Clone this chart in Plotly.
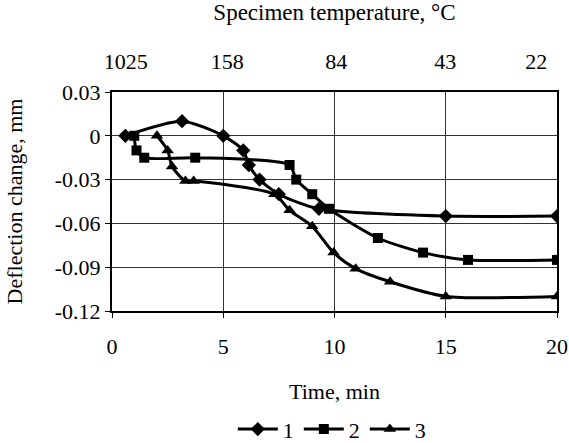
import plotly.graph_objects as go

# Series 1 (diamonds)
t1 = [0.6, 3.15, 5.0, 5.9, 6.15, 6.63, 7.5, 9.3, 15.0, 20.0]
d1 = [0.0, 0.010, 0.0, -0.010, -0.020, -0.030, -0.040, -0.050, -0.055, -0.055]
# Series 2 (squares)
t2 = [1.0, 1.1, 1.45, 3.74, 7.98, 8.28, 9.0, 9.75, 11.95, 13.98, 16.0, 20.0]
d2 = [0.0, -0.010, -0.015, -0.015, -0.020, -0.030, -0.040, -0.050, -0.070, -0.080, -0.085, -0.085]
# Series 3 (triangles)
t3 = [2.02, 2.5, 2.7, 3.3, 3.67, 7.3, 7.98, 9.0, 9.96, 10.95, 12.5, 15.0, 20.0]
d3 = [0.0, -0.010, -0.021, -0.031, -0.031, -0.040, -0.051, -0.062, -0.080, -0.091, -0.100, -0.110, -0.110]

x_ticks = [0, 5, 10, 15, 20]
y_ticks = [0.03, 0, -0.03, -0.06, -0.09, -0.12]
y_labels = ["0.03", "0", "-0.03", "-0.06", "-0.09", "-0.12"]
temp_pos = [0.62, 5.18, 10.08, 14.98, 19.07]
temp_labels = ["1025", "158", "84", "43", "22"]

FONT = "Liberation Serif"
TF = dict(family=FONT, size=22, color="black")
names = ["1", "2", "3"]
symbols = ["diamond", "square", "triangle-up"]
sizes = [11, 10, 11]

fig = go.Figure()
for t, d, n, s, sz in zip([t1, t2, t3], [d1, d2, d3], names, symbols, sizes):
    fig.add_trace(go.Scatter(
        x=t, y=d, name=n, mode="lines+markers",
        line=dict(color="black", width=3, shape="spline", smoothing=0.7),
        marker=dict(symbol=s, size=sz, color="black"),
    ))

# invisible trace for the top axis
fig.add_trace(go.Scatter(x=[0, 20], y=[None, None], xaxis="x2", showlegend=False,
                         hoverinfo="skip", mode="lines"))

fig.update_layout(
    template="none",
    width=569, height=443,
    margin=dict(l=112, r=12, t=92, b=132, pad=0, autoexpand=False),
    paper_bgcolor="white", plot_bgcolor="white",
    font=TF,
    showlegend=True,
    legend=dict(orientation="h", x=0.494, xanchor="center", y=-0.54, yanchor="middle",
                font=TF, itemwidth=40, tracegroupgap=0, bgcolor="rgba(0,0,0,0)"),
    xaxis=dict(
        range=[0, 20], tickvals=x_ticks, ticktext=[str(v) for v in x_ticks],
        tickfont=TF,
        showgrid=True, gridcolor="#333333", gridwidth=1,
        showline=True, linecolor="black", linewidth=2, mirror=True,
        ticks="outside", ticklen=5, tickcolor="black", tickwidth=1, ticklabelstandoff=10,
        zeroline=False,
        title=dict(text="Time, min", standoff=25, font=TF),
    ),
    xaxis2=dict(
        range=[0, 20], overlaying="x", side="top",
        tickvals=temp_pos, ticktext=temp_labels, tickfont=TF,
        showgrid=False, showline=False, ticks="", zeroline=False,
        ticklabelstandoff=18,
        title=dict(text="Specimen temperature, °C", standoff=22,
                   font=dict(family=FONT, size=23, color="black")),
    ),
    yaxis=dict(
        range=[-0.12, 0.03], tickvals=y_ticks, ticktext=y_labels, tickfont=TF,
        showgrid=True, gridcolor="#333333", gridwidth=1,
        showline=True, linecolor="black", linewidth=2, mirror=True,
        ticks="outside", ticklen=5, tickcolor="black", tickwidth=1,
        zeroline=False,
        title=dict(text="Deflection change, mm", standoff=26, font=TF),
    ),
)

fig.write_html("out.html",
               config={"displayModeBar": False, "staticPlot": True},
               post_script="document.body.style.margin='0';document.body.style.overflow='hidden';")
